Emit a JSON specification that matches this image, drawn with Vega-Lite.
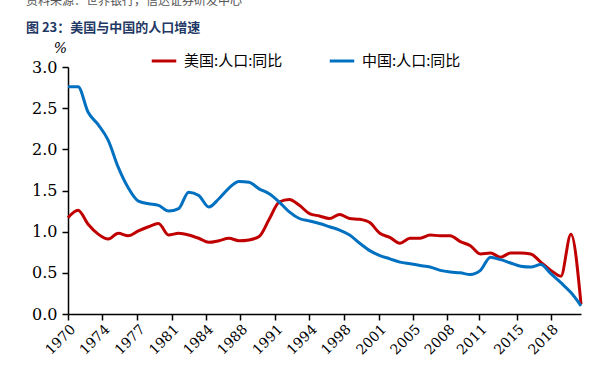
{
  "$schema": "https://vega.github.io/schema/vega-lite/v6.json",
  "width": 513,
  "height": 247,
  "autosize": {"type": "none"},
  "padding": {"left": 68, "top": 67, "right": 9, "bottom": 71},
  "background": "white",
  "title": {
    "text": "资料来源：世界银行，信达证券研发中心",
    "subtitle": "图 23：美国与中国的人口增速",
    "anchor": "start",
    "frame": "group",
    "dx": -42,
    "offset": 5,
    "font": "Noto Sans CJK SC",
    "fontSize": 12,
    "fontWeight": "normal",
    "color": "#555555",
    "subtitleFont": "Noto Sans CJK SC",
    "subtitleFontSize": 13,
    "subtitleFontWeight": "bold",
    "subtitleColor": "#1F3864",
    "subtitlePadding": 14
  },
  "config": {
    "view": {"stroke": null},
    "axis": {"grid": false, "domainColor": "black", "tickColor": "black", "domainWidth": 1.5, "tickWidth": 1.5}
  },
  "data": {
    "values": [
      {"year": 1970, "us": 1.17, "cn": 2.76},
      {"year": 1971, "us": 1.26, "cn": 2.76},
      {"year": 1972, "us": 1.09, "cn": 2.45},
      {"year": 1973, "us": 0.97, "cn": 2.30},
      {"year": 1974, "us": 0.91, "cn": 2.11},
      {"year": 1975, "us": 0.98, "cn": 1.78},
      {"year": 1976, "us": 0.95, "cn": 1.53},
      {"year": 1977, "us": 1.01, "cn": 1.37},
      {"year": 1978, "us": 1.06, "cn": 1.34},
      {"year": 1979, "us": 1.10, "cn": 1.32},
      {"year": 1980, "us": 0.96, "cn": 1.25},
      {"year": 1981, "us": 0.98, "cn": 1.28},
      {"year": 1982, "us": 0.96, "cn": 1.48},
      {"year": 1983, "us": 0.92, "cn": 1.44},
      {"year": 1984, "us": 0.87, "cn": 1.30},
      {"year": 1985, "us": 0.89, "cn": 1.40},
      {"year": 1986, "us": 0.92, "cn": 1.53},
      {"year": 1987, "us": 0.89, "cn": 1.61},
      {"year": 1988, "us": 0.90, "cn": 1.60},
      {"year": 1989, "us": 0.94, "cn": 1.52},
      {"year": 1990, "us": 1.15, "cn": 1.46},
      {"year": 1991, "us": 1.36, "cn": 1.36},
      {"year": 1992, "us": 1.39, "cn": 1.24},
      {"year": 1993, "us": 1.32, "cn": 1.16},
      {"year": 1994, "us": 1.22, "cn": 1.13},
      {"year": 1995, "us": 1.19, "cn": 1.10},
      {"year": 1996, "us": 1.16, "cn": 1.06},
      {"year": 1997, "us": 1.21, "cn": 1.02},
      {"year": 1998, "us": 1.16, "cn": 0.96},
      {"year": 1999, "us": 1.15, "cn": 0.86},
      {"year": 2000, "us": 1.11, "cn": 0.77},
      {"year": 2001, "us": 0.98, "cn": 0.71},
      {"year": 2002, "us": 0.93, "cn": 0.67},
      {"year": 2003, "us": 0.86, "cn": 0.63},
      {"year": 2004, "us": 0.92, "cn": 0.61},
      {"year": 2005, "us": 0.92, "cn": 0.59},
      {"year": 2006, "us": 0.96, "cn": 0.57},
      {"year": 2007, "us": 0.95, "cn": 0.53},
      {"year": 2008, "us": 0.95, "cn": 0.51},
      {"year": 2009, "us": 0.88, "cn": 0.50},
      {"year": 2010, "us": 0.83, "cn": 0.48},
      {"year": 2011, "us": 0.73, "cn": 0.53},
      {"year": 2012, "us": 0.74, "cn": 0.69},
      {"year": 2013, "us": 0.69, "cn": 0.66},
      {"year": 2014, "us": 0.74, "cn": 0.62},
      {"year": 2015, "us": 0.74, "cn": 0.58},
      {"year": 2016, "us": 0.73, "cn": 0.57},
      {"year": 2017, "us": 0.63, "cn": 0.60},
      {"year": 2018, "us": 0.53, "cn": 0.49},
      {"year": 2019, "us": 0.46, "cn": 0.38},
      {"year": 2020, "us": 0.97, "cn": 0.26},
      {"year": 2021, "us": 0.12, "cn": 0.10}
    ]
  },
  "transform": [
    {"fold": ["us", "cn"], "as": ["key", "value"]},
    {"calculate": "datum.key === 'us' ? '美国:人口:同比' : '中国:人口:同比'", "as": "series"}
  ],
  "mark": {"type": "line", "interpolate": "monotone", "strokeWidth": 3},
  "encoding": {
    "x": {
      "field": "year",
      "type": "quantitative",
      "scale": {"domain": [1970, 2021], "nice": false, "zero": false},
      "axis": {
        "title": null,
        "values": [1970, 1973.4, 1976.9, 1980.3, 1983.7, 1987.1, 1990.6, 1994.0, 1997.4, 2000.9, 2004.3, 2007.7, 2010.9, 2014.6, 2018.0],
        "labelExpr": "toString(ceil(datum.value - 0.001))",
        "labelAngle": -45,
        "labelAlign": "right",
        "labelBaseline": "top",
        "labelOverlap": false,
        "labelFont": "DejaVu Serif",
        "labelFontSize": 14,
        "labelColor": "black",
        "tickSize": 6,
        "labelPadding": 2
      }
    },
    "y": {
      "field": "value",
      "type": "quantitative",
      "scale": {"domain": [0, 3], "nice": false},
      "axis": {
        "title": "%",
        "titleAngle": 0,
        "titleX": -8,
        "titleY": -12,
        "titleAlign": "center",
        "titleFont": "DejaVu Serif",
        "titleFontStyle": "italic",
        "titleFontWeight": "normal",
        "titleFontSize": 14,
        "values": [0, 0.5, 1, 1.5, 2, 2.5, 3],
        "format": ".1f",
        "labelFont": "DejaVu Serif",
        "labelFontSize": 16,
        "labelColor": "black",
        "tickSize": 6,
        "labelPadding": 5
      }
    },
    "color": {
      "field": "series",
      "type": "nominal",
      "scale": {"domain": ["美国:人口:同比", "中国:人口:同比"], "range": ["#C00000", "#0070C0"]},
      "legend": {
        "title": null,
        "orient": "none",
        "direction": "horizontal",
        "legendX": 82,
        "legendY": -20,
        "symbolType": "stroke",
        "symbolSize": 600,
        "symbolStrokeWidth": 3,
        "labelFont": "Noto Sans CJK SC",
        "labelFontSize": 15,
        "labelColor": "black",
        "columnPadding": 40,
        "labelOffset": 6
      }
    }
  }
}
